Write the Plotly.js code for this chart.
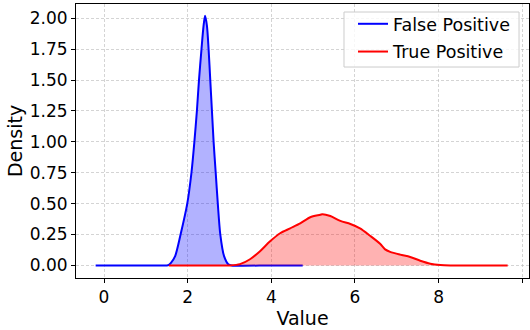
<!DOCTYPE html>
<html>
<head>
<meta charset="utf-8">
<script src="https://cdn.plot.ly/plotly-3.0.1.min.js"></script>
<style>html,body{margin:0;padding:0;background:#fff;}#chart{width:530px;height:330px;}</style>
</head>
<body>
<div id="chart"></div>
<script>
// False Positive density curve
var fpX = [-0.2, 1.0, 1.50, 1.55, 1.60, 1.70, 1.83, 1.99, 2.09, 2.16, 2.22, 2.27, 2.33, 2.38, 2.416, 2.46, 2.50, 2.54, 2.58, 2.62, 2.67, 2.72, 2.78, 2.87, 2.97, 3.05, 4.0, 4.75];
var fpY = [0, 0, 0, 0.005, 0.02, 0.075, 0.25, 0.50, 0.75, 1.00, 1.25, 1.50, 1.75, 1.94, 2.02, 1.94, 1.75, 1.50, 1.25, 1.00, 0.75, 0.50, 0.25, 0.075, 0.01, 0, 0, 0];
// True Positive density curve
var tpX = [1.55, 2.5, 3.01, 3.25, 3.49, 3.73, 3.97, 4.21, 4.45, 4.69, 4.93, 5.17, 5.22, 5.41, 5.65, 5.89, 6.12, 6.36, 6.60, 6.72, 6.84, 7.08, 7.32, 7.56, 7.80, 8.04, 8.28, 9.0, 9.65];
var tpY = [0, 0, 0, 0.01, 0.05, 0.115, 0.195, 0.26, 0.30, 0.34, 0.39, 0.41, 0.415, 0.40, 0.36, 0.335, 0.30, 0.24, 0.175, 0.13, 0.11, 0.087, 0.068, 0.038, 0.014, 0.003, 0, 0, 0];
var seriesNames = ["False Positive", "True Positive"];
var xTicks = [0, 2, 4, 6, 8, 10];
var yTicks = [0, 0.25, 0.5, 0.75, 1.0, 1.25, 1.5, 1.75, 2.0];

var font = "DejaVu Sans, sans-serif";
var traces = [
  {x: fpX, y: fpY, type: "scatter", mode: "lines", fill: "tozeroy", fillcolor: "rgba(0,0,255,0.3)", line: {width: 0, color: "blue", shape: "spline", smoothing: 0.8}, showlegend: false, hoverinfo: "skip"},
  {x: fpX, y: fpY, type: "scatter", mode: "lines", name: seriesNames[0], legendgroup: "a", line: {width: 2, color: "blue", shape: "spline", smoothing: 0.8}},
  {x: tpX, y: tpY, type: "scatter", mode: "lines", fill: "tozeroy", fillcolor: "rgba(255,0,0,0.3)", line: {width: 0, color: "red", shape: "spline", smoothing: 0.8}, showlegend: false, hoverinfo: "skip"},
  {x: tpX, y: tpY, type: "scatter", mode: "lines", name: seriesNames[1], legendgroup: "b", line: {width: 2, color: "red", shape: "spline", smoothing: 0.8}}
];
var gridColor = "rgba(176,176,176,0.55)";
var layout = {
  width: 530, height: 330,
  margin: {l: 76, r: 1, t: 4, b: 52},
  paper_bgcolor: "#fff", plot_bgcolor: "#fff",
  font: {family: font, size: 17, color: "#000"},
  xaxis: {
    range: [-0.67, 10.16], tickvals: xTicks, ticktext: xTicks.map(String),
    showgrid: true, gridcolor: gridColor, griddash: "3px,2px", gridwidth: 1,
    zeroline: false, showline: true, mirror: true, linecolor: "#000", linewidth: 1,
    ticks: "outside", ticklen: 4, tickcolor: "#000", tickfont: {size: 17},
    title: {text: "Value", font: {size: 19}, standoff: 0}
  },
  yaxis: {
    range: [-0.102, 2.116], tickvals: yTicks, ticktext: yTicks.map(function(v){return v.toFixed(2);}),
    showgrid: true, gridcolor: gridColor, griddash: "3px,2px", gridwidth: 1,
    zeroline: false, showline: true, mirror: true, linecolor: "#000", linewidth: 1,
    ticks: "outside", ticklen: 4, tickcolor: "#000", tickfont: {size: 17},
    title: {text: "Density", font: {size: 19}, standoff: 2}
  },
  legend: {
    x: 0.6115, y: 0.993, xanchor: "left", yanchor: "top",
    bgcolor: "rgba(0,0,0,0)", borderwidth: 0,
    font: {size: 17.5}, traceorder: "grouped", tracegroupgap: 2
  },
  shapes: [{
    type: "rect", xref: "paper", yref: "paper", layer: "above",
    x0: 0.5916, x1: 0.978, y0: 0.770, y1: 0.9708,
    fillcolor: "rgba(255,255,255,0.8)", line: {color: "#cccccc", width: 1}
  }],
  showlegend: true
};
Plotly.newPlot("chart", traces, layout, {displayModeBar: false, staticPlot: true});
</script>
</body>
</html>
